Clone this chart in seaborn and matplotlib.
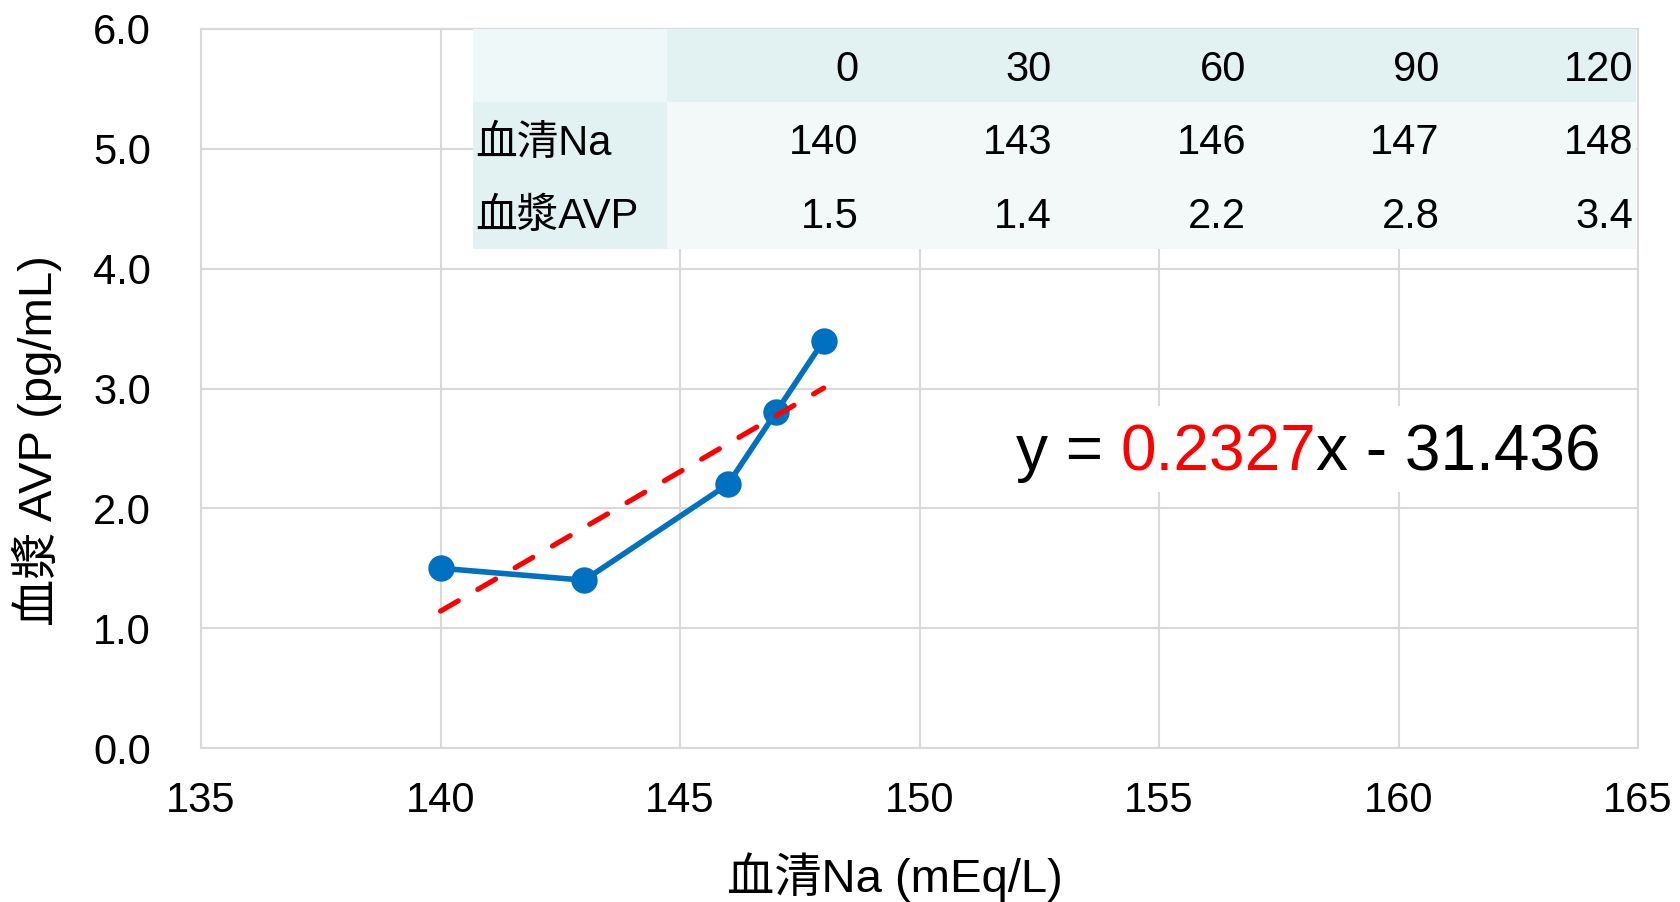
import matplotlib
matplotlib.use("Agg")
import matplotlib.pyplot as plt
import seaborn as sns
import pandas as pd
from matplotlib.patches import Rectangle
from matplotlib.ticker import FormatStrFormatter, MultipleLocator

# Time points (min), serum sodium and plasma AVP measurements
time_min = [0, 30, 60, 90, 120]
serum_na = [140, 143, 146, 147, 148]
plasma_avp = [1.5, 1.4, 2.2, 2.8, 3.4]

# Linear trend coefficients
slope = 0.2327
intercept = -31.436

row_labels = ["血清Na", "血漿AVP"]
x_label = "血清Na (mEq/L)"
y_label = "血漿 AVP (pg/mL)"

sns.set_theme(style="white")
plt.rcParams["font.family"] = ["Liberation Sans", "Noto Sans CJK JP", "DejaVu Sans"]
plt.rcParams["text.color"] = "black"

df = pd.DataFrame({"na": serum_na, "avp": plasma_avp})

fig = plt.figure(figsize=(16.8, 9.02), dpi=100)
ax = fig.add_axes([201 / 1680, 1 - 748 / 902, 1437 / 1680, 719 / 902])

grid_c = "#d9d9d9"
ax.set_xlim(135, 165)
ax.set_ylim(0, 6)
ax.xaxis.set_major_locator(MultipleLocator(5))
ax.yaxis.set_major_locator(MultipleLocator(1))
ax.yaxis.set_major_formatter(FormatStrFormatter("%.1f"))
ax.grid(True, color=grid_c, linewidth=1.5)
ax.set_axisbelow(True)
for s in ax.spines.values():
    s.set_visible(True)
    s.set_color(grid_c)
    s.set_linewidth(1.5)
ax.tick_params(axis="both", length=0, labelsize=30, labelcolor="black")
ax.tick_params(axis="x", pad=24)
ax.tick_params(axis="y", pad=36)

# Measured series
sns.lineplot(data=df, x="na", y="avp", ax=ax, color="#0070c0", linewidth=4,
             marker="o", markersize=19, markeredgewidth=0, zorder=4)

# Linear trend over the measured range
x_fit = [min(serum_na), max(serum_na)]
y_fit = [slope * v + intercept for v in x_fit]
trend, = ax.plot(x_fit, y_fit, color="#ff0000", linewidth=3.7, zorder=5,
                 solid_capstyle="round", dash_capstyle="round")
trend.set_dashes((4.0, 4.4))

ax.set_xlabel(x_label, fontsize=34, color="black")
ax.set_ylabel(y_label, fontsize=34, color="black")
ax.xaxis.set_label_coords(0.483, -0.18)
ax.xaxis.label.set_va("center")
ax.yaxis.set_label_coords(-0.114, 0.427)
ax.yaxis.label.set_va("center")

# Data table in the upper part of the plot
cell_text = [[""] + [str(t) for t in time_min],
             [row_labels[0]] + [str(v) for v in serum_na],
             [row_labels[1]] + [f"{v:.1f}" for v in plasma_avp]]
tbl = ax.table(cellText=cell_text, cellLoc="right",
               bbox=[(473 - 201) / 1437, (748 - 249) / 719, (1636 - 473) / 1437, 220 / 719])
tbl.auto_set_font_size(False)
tbl.set_fontsize(30)
tbl.set_zorder(3)
hdr_c = "#e2f2f2"
corner_c = "#eff8f8"
body_c = "#f3f9f9"
for (r, c), cell in tbl.get_celld().items():
    cell.set_linewidth(0)
    cell.set_edgecolor("none")
    cell.PAD = 0.012
    cell.get_text().set_color("black")
    cell.get_text().set_va("center_baseline")
    if r == 0 and c == 0:
        cell.set_facecolor(corner_c)
    elif r == 0 or c == 0:
        cell.set_facecolor(hdr_c)
    else:
        cell.set_facecolor(body_c)
    if c == 0:
        cell.get_text().set_ha("left")
        cell._loc = "left"

# White panel behind the trend-line equation
ax.add_patch(Rectangle((1005 / 1680, 1 - 492 / 902), 610 / 1680, 86 / 902,
                       transform=fig.transFigure, facecolor="white",
                       edgecolor="none", zorder=5.5, clip_on=False))

# Trend-line equation with the slope highlighted
t1 = ax.text(1016 / 1680, 1 - 470 / 902, "y = ", fontsize=46, color="black",
             va="baseline", ha="left", zorder=6, transform=fig.transFigure)
t2 = ax.annotate(f"{slope:.4f}", xy=(1, 0), xycoords=t1, fontsize=46, color="#ff0000",
                 va="bottom", ha="left", zorder=6, annotation_clip=False)
t3 = ax.annotate(f"x - {abs(intercept):.3f}", xy=(1, 0), xycoords=t2, fontsize=46,
                 color="black", va="bottom", ha="left", zorder=6, annotation_clip=False)

fig.savefig("out.png", dpi=100)
